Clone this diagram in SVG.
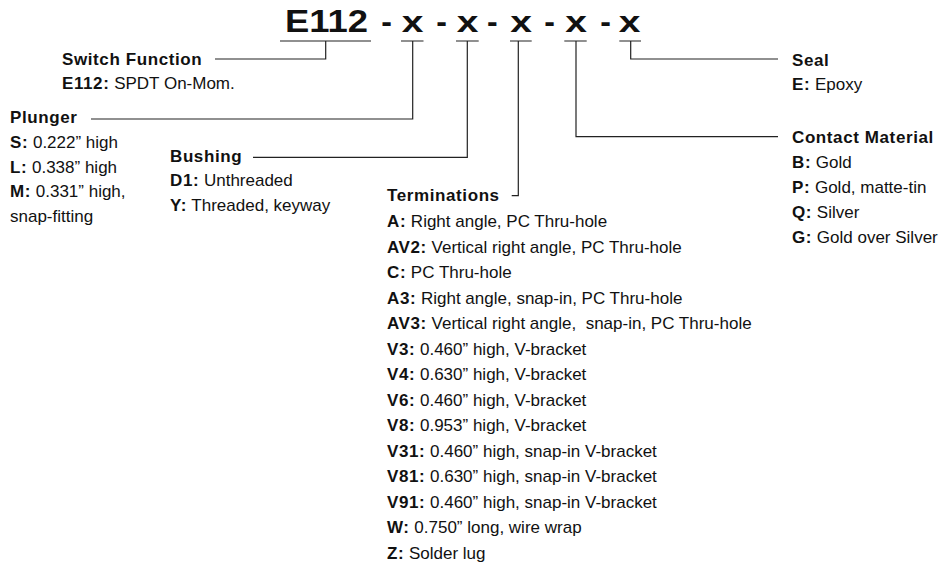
<svg xmlns="http://www.w3.org/2000/svg" width="939" height="564" viewBox="0 0 939 564">
<style>
text{font-family:"Liberation Sans",Arial,sans-serif;fill:#111;}
.h{font-weight:bold;font-size:17px;letter-spacing:0.6px;}
.t{font-size:17px;}
.b{font-weight:bold;letter-spacing:0.6px;}
.title{font-weight:bold;font-size:32px;}
.xx{font-weight:bold;font-size:30px;text-anchor:middle;}
.ln{fill:none;stroke:#222;stroke-width:1.2;}
</style>
<rect width="939" height="564" fill="#fff"/>
<g id="connectors">
<path class="ln" d="M280,41H371M325.7,41V59H215"/>
<path class="ln" d="M401,41H423.5M412.7,41V119H91"/>
<path class="ln" d="M456,41H478.7M467.3,41V157.3H253"/>
<path class="ln" d="M510,41H531.7M518.3,41V195.7H511.7"/>
<path class="ln" d="M564.3,41H586.7M576,41V136.7H778"/>
<path class="ln" d="M619.3,41H641M630.7,41V59H778"/>
</g>
<g id="part-number">
<text class="title" x="285" y="32.3" textLength="83" lengthAdjust="spacingAndGlyphs">E112</text>
<text class="title" x="386.7" y="32.3" text-anchor="middle">-</text>
<text class="title" x="441.7" y="32.3" text-anchor="middle">-</text>
<text class="title" x="492.3" y="32.3" text-anchor="middle">-</text>
<text class="title" x="549.5" y="32.3" text-anchor="middle">-</text>
<text class="title" x="605.5" y="32.3" text-anchor="middle">-</text>
<text class="xx" transform="translate(412.5,32.3) scale(1.3,1)">x</text>
<text class="xx" transform="translate(467.5,32.3) scale(1.3,1)">x</text>
<text class="xx" transform="translate(521,32.3) scale(1.3,1)">x</text>
<text class="xx" transform="translate(576,32.3) scale(1.3,1)">x</text>
<text class="xx" transform="translate(629.5,32.3) scale(1.3,1)">x</text>
</g>
<g id="switch-function">
<text class="h" x="62" y="65">Switch Function</text>
<text class="t" x="62" y="89"><tspan class="b">E112:</tspan> SPDT On-Mom.</text>
</g>
<g id="plunger">
<text class="h" x="10" y="123">Plunger</text>
<text class="t" x="10" y="148"><tspan class="b">S:</tspan> 0.222” high</text>
<text class="t" x="10" y="172.5"><tspan class="b">L:</tspan> 0.338” high</text>
<text class="t" x="10" y="197"><tspan class="b">M:</tspan> 0.331” high,</text>
<text class="t" x="10" y="221.5">snap-fitting</text>
</g>
<g id="bushing">
<text class="h" x="170" y="161.7">Bushing</text>
<text class="t" x="170" y="186"><tspan class="b">D1:</tspan> Unthreaded</text>
<text class="t" x="170" y="210.5"><tspan class="b">Y:</tspan> Threaded, keyway</text>
</g>
<g id="terminations">
<text class="h" x="387" y="201">Terminations</text>
<text class="t" x="387" y="227"><tspan class="b">A:</tspan> Right angle, PC Thru-hole</text>
<text class="t" x="387" y="252.5"><tspan class="b">AV2:</tspan> Vertical right angle, PC Thru-hole</text>
<text class="t" x="387" y="278"><tspan class="b">C:</tspan> PC Thru-hole</text>
<text class="t" x="387" y="303.5"><tspan class="b">A3:</tspan> Right angle, snap-in, PC Thru-hole</text>
<text class="t" x="387" y="329" xml:space="preserve"><tspan class="b">AV3:</tspan> Vertical right angle,  snap-in, PC Thru-hole</text>
<text class="t" x="387" y="354.5"><tspan class="b">V3:</tspan> 0.460” high, V-bracket</text>
<text class="t" x="387" y="380"><tspan class="b">V4:</tspan> 0.630” high, V-bracket</text>
<text class="t" x="387" y="405.5"><tspan class="b">V6:</tspan> 0.460” high, V-bracket</text>
<text class="t" x="387" y="431"><tspan class="b">V8:</tspan> 0.953” high, V-bracket</text>
<text class="t" x="387" y="456.5"><tspan class="b">V31:</tspan> 0.460” high, snap-in V-bracket</text>
<text class="t" x="387" y="482"><tspan class="b">V81:</tspan> 0.630” high, snap-in V-bracket</text>
<text class="t" x="387" y="507.5"><tspan class="b">V91:</tspan> 0.460” high, snap-in V-bracket</text>
<text class="t" x="387" y="533"><tspan class="b">W:</tspan> 0.750” long, wire wrap</text>
<text class="t" x="387" y="558.5"><tspan class="b">Z:</tspan> Solder lug</text>
</g>
<g id="seal">
<text class="h" x="792" y="66">Seal</text>
<text class="t" x="792" y="90"><tspan class="b">E:</tspan> Epoxy</text>
</g>
<g id="contact-material">
<text class="h" x="792" y="143">Contact Material</text>
<text class="t" x="792" y="168"><tspan class="b">B:</tspan> Gold</text>
<text class="t" x="792" y="193"><tspan class="b">P:</tspan> Gold, matte-tin</text>
<text class="t" x="792" y="218"><tspan class="b">Q:</tspan> Silver</text>
<text class="t" x="792" y="243"><tspan class="b">G:</tspan> Gold over Silver</text>
</g>
</svg>
